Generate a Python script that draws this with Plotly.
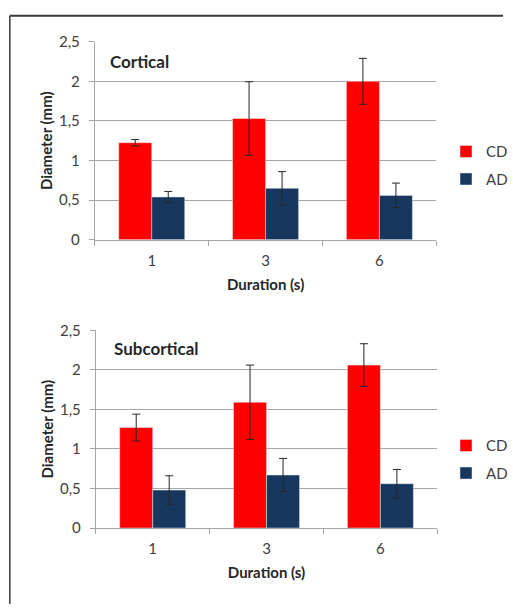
import plotly.graph_objects as go

durations = ["1", "3", "6"]
cortical_cd = [1.225, 1.53, 2.0]
cortical_cd_err = [0.04, 0.465, 0.29]
cortical_ad = [0.54, 0.65, 0.56]
cortical_ad_err = [0.07, 0.21, 0.155]
subcortical_cd = [1.27, 1.59, 2.06]
subcortical_cd_err = [0.17, 0.47, 0.27]
subcortical_ad = [0.48, 0.67, 0.56]
subcortical_ad_err = [0.18, 0.21, 0.18]
y_ticks = [0, 0.5, 1, 1.5, 2, 2.5]

W, H = 513, 612
RED = "#FF0000"
NAVY = "#17375E"
ERR = "#262626"
FONT = "Lato, 'Open Sans', sans-serif"
GRID = "#a6a6a6"

def px(x):
    return x / W

def py(y):
    return 1 - y / H

fig = go.Figure()

def add_bars(cd, cde, ad, ade, xa, ya, legend):
    fig.add_trace(go.Bar(x=durations, y=cd, name="CD", marker_color=RED,
                         error_y=dict(type="data", array=cde, color=ERR, thickness=1, width=4),
                         xaxis=xa, yaxis=ya, legend=legend, legendgroup=legend + "cd"))
    fig.add_trace(go.Bar(x=durations, y=ad, name="AD", marker_color=NAVY,
                         error_y=dict(type="data", array=ade, color=ERR, thickness=1, width=4),
                         xaxis=xa, yaxis=ya, legend=legend, legendgroup=legend + "ad"))

add_bars(cortical_cd, cortical_cd_err, cortical_ad, cortical_ad_err, "x", "y", "legend")
add_bars(subcortical_cd, subcortical_cd_err, subcortical_ad, subcortical_ad_err, "x2", "y2", "legend2")

tickfont = dict(family=FONT, size=15, color="#404040")
titlefont = dict(family=FONT, size=15, color="#262626", weight="bold")

def xaxis(dom, anchor):
    return dict(domain=dom, anchor=anchor, type="category", range=[-0.5, 2.5],
                showline=True, linecolor=GRID, linewidth=1, ticks="outside",
                tickson="boundaries", ticklen=5, tickcolor=GRID, tickfont=tickfont,
                ticklabelstandoff=7,
                showgrid=False, title=dict(text="Duration (s)", font=titlefont, standoff=11))

def yaxis(dom, anchor):
    return dict(domain=dom, anchor=anchor, range=[0, 2.5], tickvals=y_ticks,
                showline=True, linecolor=GRID, linewidth=1, ticks="outside",
                ticklen=5, tickcolor=GRID, tickfont=tickfont, showgrid=True,
                ticklabelstandoff=6,
                gridcolor=GRID, gridwidth=1, zeroline=False,
                title=dict(text="Diameter (mm)", font=titlefont, standoff=2))

legend_common = dict(font=dict(family=FONT, size=15, color="#404040"),
                     tracegroupgap=5, itemwidth=30, bgcolor="rgba(0,0,0,0)",
                     xanchor="left", yanchor="top")

fig.update_layout(
    width=W, height=H, margin=dict(l=0, r=0, t=0, b=0),
    paper_bgcolor="white", plot_bgcolor="white",
    separators=", ", barmode="group", bargap=0.42, bargroupgap=0,
    xaxis=xaxis([px(96.7), px(445)], "y"),
    yaxis=yaxis([py(236.7), py(32.7)], "x"),
    xaxis2=xaxis([px(97.7), px(446)], "y2"),
    yaxis2=yaxis([py(533.7), py(330)], "x2"),
    legend=dict(x=px(455), y=py(129), **legend_common),
    legend2=dict(x=px(455), y=py(432), **legend_common),
    showlegend=True,
    annotations=[
        dict(text="<b>Cortical</b>", x=px(110), y=py(52.7), xref="paper", yref="paper",
             xanchor="left", yanchor="middle", showarrow=False,
             font=dict(family=FONT, size=17, color="#262626")),
        dict(text="<b>Subcortical</b>", x=px(114), y=py(349), xref="paper", yref="paper",
             xanchor="left", yanchor="middle", showarrow=False,
             font=dict(family=FONT, size=17, color="#262626")),
    ],
    shapes=[
        dict(type="line", xref="paper", yref="paper", x0=px(10), x1=1, y0=py(6), y1=py(6),
             line=dict(color="#3a3a3a", width=2)),
        dict(type="line", xref="paper", yref="paper", x0=px(10), x1=px(10), y0=py(6), y1=0,
             line=dict(color="#3a3a3a", width=1.5)),
    ],
)

fig.write_html("out.html", config={"displayModeBar": False},
               post_script="document.body.style.margin='0';document.body.style.overflow='hidden';")
